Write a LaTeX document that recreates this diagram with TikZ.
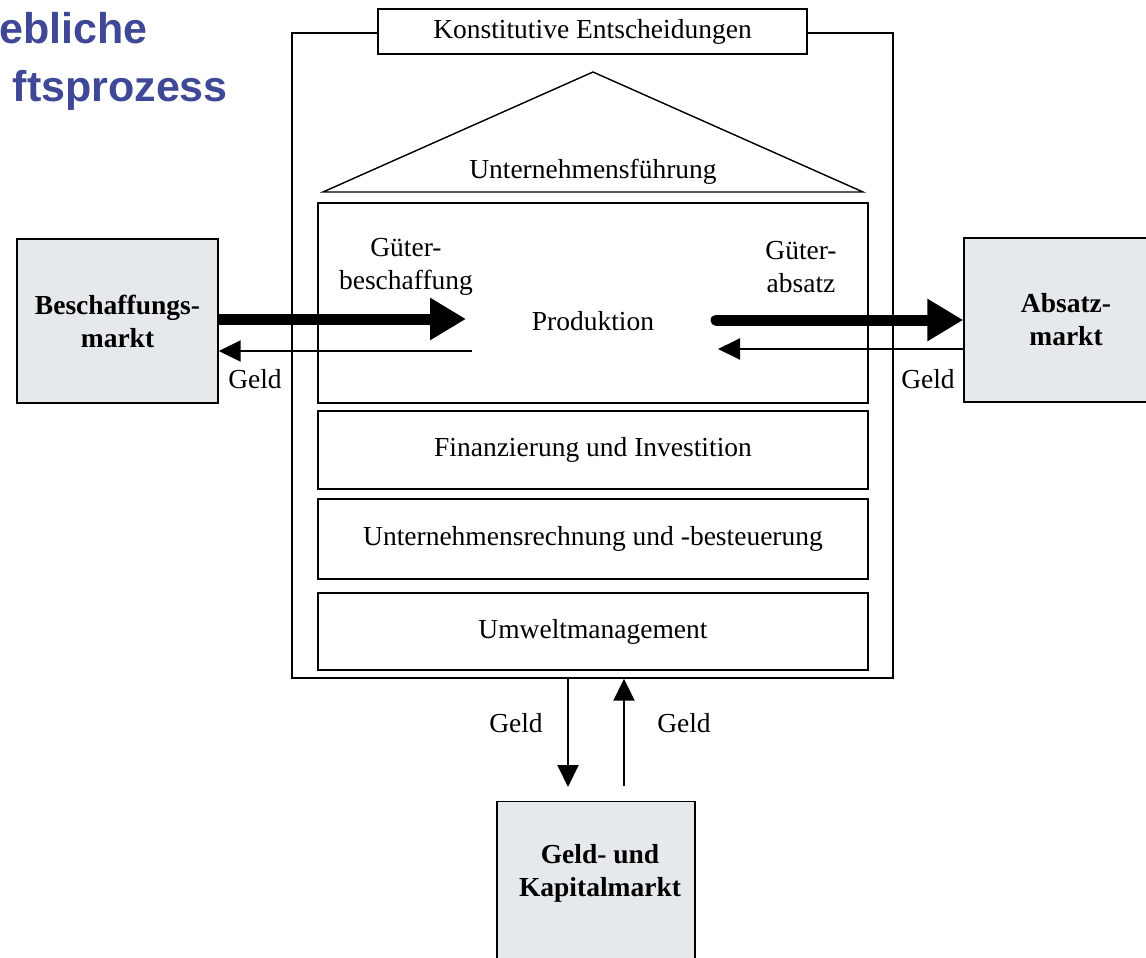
\documentclass[tikz,border=0pt]{standalone}
\usepackage{fontspec}
\setmainfont{Liberation Serif}
\newfontfamily\titelfont{Liberation Sans}
\usetikzlibrary{arrows.meta,positioning}
\definecolor{marktgrau}{RGB}{230,233,235}
\definecolor{titelblau}{RGB}{63,72,150}
\tikzset{kasten/.style={draw,line width=1.4pt,inner sep=0pt},
	markt/.style={kasten,fill=marktgrau},
	schrift/.style={font=\fontsize{27.5}{33}\selectfont,align=center,inner sep=0pt},
	fett/.style={schrift,font=\fontsize{27.5}{33}\selectfont\bfseries},
	titel/.style={font=\titelfont\bfseries\fontsize{43}{50}\selectfont,text=titelblau,inner sep=0pt},
	duenn/.style={line width=2pt,-{Triangle[length=22pt,width=21pt]}},
	dick/.style={line width=11pt,-{Triangle[length=36pt,width=40pt]}}}

\begin{document}
\begin{tikzpicture}
	[x=1pt,y=-1pt]
	\useasboundingbox (0,0) rectangle (1146,958);
	\node [titel,anchor=base east] (titel1) at (148,44) {ebliche};
	\node [titel,anchor=base east] (titel2) at (228,102) {ftsprozess};
	\node [kasten,minimum width=601pt,minimum height=645pt] (rahmen) at (592.5,355.5) {};
	\node [kasten,schrift,fill=white,minimum width=429pt,minimum height=45pt] (konst) at (592.5,31.5) {Konstitutive Entscheidungen};
	\coordinate (dachl) at (323,192);
	\coordinate (spitze) at (593,72);
	\coordinate (dachr) at (863,192);
	\draw [line width=1.4pt] (dachl) -- (spitze) -- (dachr) -- cycle;
	\node [schrift] (fuehrung) at (593,172) {Unternehmensführung};
	\node [kasten,minimum width=550pt,minimum height=200pt] (prod) at (593,303) {};
	\node [kasten,schrift,minimum width=550pt,minimum height=78pt] (finanz) at (593,450) {Finanzierung und Investition};
	\node [kasten,schrift,minimum width=550pt,minimum height=80pt] (rechnung) at (593,539) {Unternehmensrechnung und -besteuerung};
	\node [kasten,schrift,minimum width=550pt,minimum height=77pt] (umwelt) at (593,631.5) {Umweltmanagement};
	\node [schrift] (produktion) at (593,321) {Produktion};
	\node [schrift] (gbesch) at (406,267) {Güter-\\beschaffung};
	\node [schrift] (gabsatz) at (801,267) {Güter-\\absatz};
	\node [markt,fett,minimum width=201pt,minimum height=164pt] (beschaffung) at (117.5,321) {Beschaffungs-\\markt};
	\node [markt,fett,minimum width=204pt,minimum height=164pt] (absatz) at (1066,320) {Absatz-\\markt};
	\node [markt,minimum width=198pt,minimum height=200pt,anchor=north] (kapital) at (596,801) {};
	\node [fett] (kapitaltext) at (600,873) {Geld- und\\Kapitalmarkt};
	\coordinate (einkauf) at (466,319);
	\coordinate (einkaufgeld) at (472,351);
	\coordinate (verkauf) at (716,320);
	\coordinate (verkaufgeld) at (718,349);
	\coordinate (kapitalab) at ([xshift=-28pt,yshift=14pt]kapital.north);
	\coordinate (kapitalauf) at ([xshift=28pt,yshift=15pt]kapital.north);
	\draw [dick] ([yshift=2pt]beschaffung.east) -- (einkauf);
	\draw [duenn] (einkaufgeld) -- ([yshift=-30pt]beschaffung.east);
	\draw [dick,line cap=round] (verkauf) -- (absatz.west);
	\draw [duenn] ([yshift=-29pt]absatz.west) -- (verkaufgeld);
	\draw [duenn] ([xshift=-24.5pt]rahmen.south) -- (kapitalab);
	\draw [duenn] (kapitalauf) -- ([xshift=31.5pt]rahmen.south);
	\node [schrift,anchor=base] (geld1) at (255,388) {Geld};
	\node [schrift,anchor=base] (geld2) at (928,388) {Geld};
	\node [schrift,anchor=base] (geld3) at (516,732) {Geld};
	\node [schrift,anchor=base] (geld4) at (684,732) {Geld};
\end{tikzpicture}
\end{document}
